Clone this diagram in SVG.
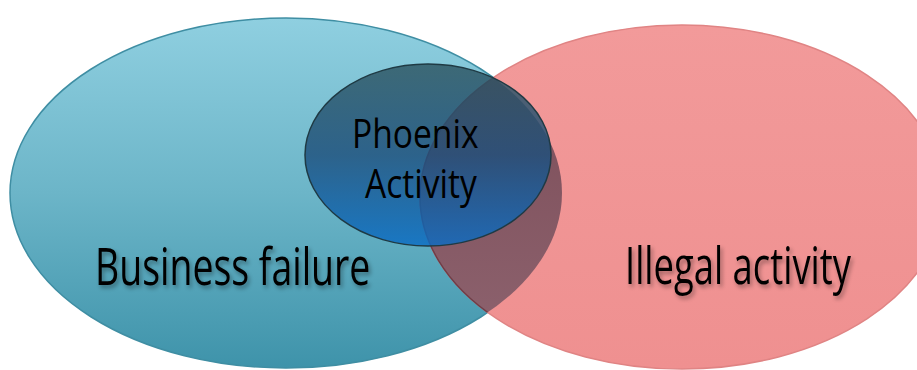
<svg xmlns="http://www.w3.org/2000/svg" width="917" height="370" viewBox="0 0 917 370">
<style>
.lbl{font-family:"Open Sans","Liberation Sans",sans-serif;fill:#000;}
</style>
<defs>
<linearGradient id="gBlue" x1="0" y1="0" x2="0" y2="1">
<stop offset="0" stop-color="#8fcfe0"/>
<stop offset="0.5" stop-color="#6cb5c8"/>
<stop offset="1" stop-color="#3e93aa"/>
</linearGradient>
<linearGradient id="gPink" x1="0" y1="0" x2="0" y2="1">
<stop offset="0" stop-color="#f29a9a"/>
<stop offset="1" stop-color="#ef9090"/>
</linearGradient>
<linearGradient id="gOver" x1="0" y1="0" x2="0" y2="1">
<stop offset="0" stop-color="#7a4a55"/>
<stop offset="1" stop-color="#8e6470"/>
</linearGradient>
<linearGradient id="gSmall" x1="0" y1="0" x2="0" y2="1">
<stop offset="0" stop-color="#2d5460"/>
<stop offset="0.5" stop-color="#1d4f7c"/>
<stop offset="1" stop-color="#0a6cc4"/>
</linearGradient>
<clipPath id="cBlue"><ellipse cx="286" cy="193" rx="276" ry="175"/></clipPath>
<filter id="sh" x="-20%" y="-30%" width="140%" height="170%">
<feGaussianBlur in="SourceAlpha" stdDeviation="2"/>
<feOffset dx="2" dy="3" result="b"/>
<feComponentTransfer><feFuncA type="linear" slope="0.35"/></feComponentTransfer>
<feMerge><feMergeNode/><feMergeNode in="SourceGraphic"/></feMerge>
</filter>
</defs>
<rect width="917" height="370" fill="#fff"/>
<g id="business-failure">
<ellipse cx="286" cy="193" rx="276" ry="175" fill="url(#gBlue)" stroke="#3f8ea3" stroke-width="1.5"/>
</g>
<g id="illegal-activity">
<ellipse cx="682" cy="197" rx="262" ry="172" fill="url(#gPink)" stroke="#e08484" stroke-width="1.5"/>
<ellipse cx="682" cy="197" rx="262" ry="172" fill="url(#gOver)" clip-path="url(#cBlue)" stroke="#6e3e48" stroke-width="1.5"/>
</g>
<g id="phoenix-activity">
<ellipse cx="428" cy="155" rx="123" ry="91" fill="url(#gSmall)" fill-opacity="0.82" stroke="#1f3a44" stroke-width="1.5"/>
<text class="lbl" font-size="40" transform="translate(352 148) scale(0.84 1)" x="0" y="0">Phoenix</text>
<text class="lbl" font-size="40" transform="translate(365 198) scale(0.84 1)" x="0" y="0">Activity</text>
</g>
<g id="labels" filter="url(#sh)">
<text class="lbl" font-size="52" transform="translate(95 285) scale(0.72 1)" x="0" y="0">Business failure</text>
<text class="lbl" font-size="52" transform="translate(625 284) scale(0.7 1)" x="0" y="0">Illegal activity</text>
</g>
</svg>
